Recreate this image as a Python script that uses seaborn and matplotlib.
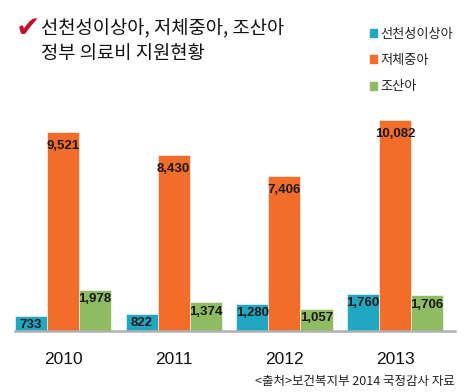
import matplotlib
matplotlib.use('Agg')
import matplotlib.pyplot as plt
import matplotlib.patches as mpatches
import seaborn as sns
import pandas as pd

# ==== Data ===================================================================
years = ['2010', '2011', '2012', '2013']
series = ['선천성이상아', '저체중아', '조산아']
congenital = [733, 822, 1280, 1760]
low_weight = [9521, 8430, 7406, 10082]
premature = [1978, 1374, 1057, 1706]
colors = ['#20A8C3', '#F26C2A', '#8FBB62']

title = '선천성이상아, 저체중아, 조산아\n정부 의료비 지원현황'
source = '<출처>보건복지부 2014 국정감사 자료'

df = pd.DataFrame({
    'year': years * 3,
    'group': [series[0]] * 4 + [series[1]] * 4 + [series[2]] * 4,
    'value': congenital + low_weight + premature,
})

# ==== Settings ===============================================================
sns.set_style('white')
plt.rcParams['font.family'] = ['Noto Sans CJK KR', 'DejaVu Sans']

W, H = 471, 392
fig = plt.figure(figsize=(W / 100, H / 100), dpi=100)
ax = fig.add_axes([15 / W, (H - 331) / H, 440 / W, 231 / H])

# ==== Bars ===================================================================
sns.barplot(data=df, x='year', y='value', hue='group', hue_order=series,
            palette=colors, width=0.87, saturation=1, ax=ax, legend=False,
            edgecolor='white', linewidth=0.4)

ax.set_ylim(0, 11037)
ax.set_xlim(-0.434, 3.541)

pads = [-11, -14.5, -11]
for cont, pad in zip(ax.containers, pads):
    ax.bar_label(cont, fmt='{:,.0f}', padding=pad, fontsize=9.5,
                 fontweight='bold', family='Liberation Sans',
                 color='#1a1a1a')

# ==== Axes ===================================================================
for s in ['top', 'right', 'left']:
    ax.spines[s].set_visible(False)
ax.spines['bottom'].set_color('#b0b0b0')
ax.spines['bottom'].set_linewidth(1.8)
ax.set_yticks([])
ax.set_xlabel('')
ax.set_ylabel('')
ax.tick_params(axis='x', length=0, pad=15)
for lab in ax.get_xticklabels():
    lab.set_fontsize(12.5)
    lab.set_family('Liberation Sans')
    lab.set_color('#111111')

# ==== Legend =================================================================
handles = [mpatches.Patch(color=c) for c in colors]
fig.legend(handles, series, loc='upper left',
           bbox_to_anchor=(358 / W, 1 - 16 / H), frameon=False,
           fontsize=9.5, handlelength=0.55, handleheight=0.55,
           handletextpad=0.25, labelspacing=1.0)

# ==== Title ==================================================================
fig.text(16 / W, 1 - 29 / H, '\u2714', color='#C8102E', fontsize=21,
         family='DejaVu Sans', va='center', ha='left')
fig.text(41 / W, 1 - 41 / H, title, fontsize=13.5, va='center', ha='left',
         linespacing=1.25, color='#111111')

# ==== Source =================================================================
fig.text(455 / W, 1 - 382 / H, source, fontsize=9, ha='right', va='center',
         color='#222222')

fig.savefig('out.png', dpi=100)
